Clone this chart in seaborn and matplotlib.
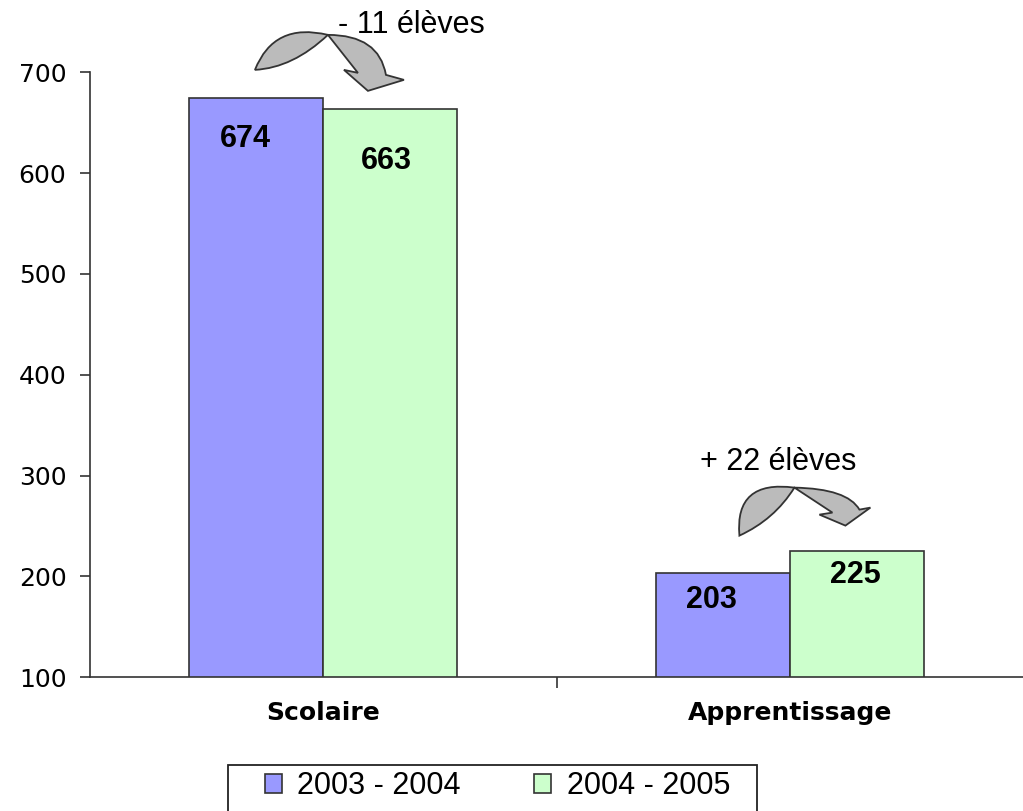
import matplotlib
matplotlib.use("Agg")
import matplotlib.pyplot as plt
import seaborn as sns
import pandas as pd
from matplotlib.path import Path
from matplotlib.patches import PathPatch, Rectangle
from matplotlib.transforms import IdentityTransform

# Données (effectifs par filière)
categories = ["Scolaire", "Apprentissage"]
annees = ["2003 - 2004", "2004 - 2005"]
effectifs_2003 = [674, 203]
effectifs_2004 = [663, 225]

df = pd.DataFrame({
    "Filiere": categories * 2,
    "Annee": [annees[0]] * 2 + [annees[1]] * 2,
    "Effectif": effectifs_2003 + effectifs_2004,
})

sns.set_style("white")
plt.rcParams["font.family"] = ["Liberation Sans", "DejaVu Sans"]
plt.rcParams["text.color"] = "black"
plt.rcParams["xtick.color"] = "black"
plt.rcParams["ytick.color"] = "black"

fig = plt.figure(figsize=(10.23, 8.11), dpi=100)
ax = fig.add_axes([0.088, 0.165, 0.912, 0.746])

sns.barplot(data=df, x="Filiere", y="Effectif", hue="Annee", order=categories,
            hue_order=annees, palette=["#9999FF", "#CCFFCC"], width=0.574,
            edgecolor="#333333", linewidth=1.2, saturation=1, ax=ax)

ax.set_ylim(100, 700)
ax.set_xlim(-0.5, 1.5)
ax.set_yticks(range(100, 701, 100))
ax.set_xlabel("")
ax.set_ylabel("")

# étiquettes des barres (décalage en points par rapport au haut de la barre)
decalages = [[(-8, -29), (-8, -19)], [(-3, -37), (-1, -17)]]
for j, cont in enumerate(ax.containers):
    for k, bar in enumerate(cont):
        h = bar.get_height()
        ax.annotate(f"{h:.0f}", (bar.get_x() + bar.get_width() / 2, h),
                    xytext=decalages[j][k], textcoords="offset points",
                    ha="center", va="center", fontsize=22, fontweight="bold")

# axes style
for s in ["top", "right"]:
    ax.spines[s].set_visible(False)
for s in ["left", "bottom"]:
    ax.spines[s].set_color("#333333")
    ax.spines[s].set_linewidth(1.2)
ax.tick_params(axis="y", left=True, length=7, width=1.2, color="#333333",
               labelsize=18, pad=10)
for lab in ax.get_yticklabels():
    lab.set_family("DejaVu Sans")
ax.set_xticks([0, 1])
ax.set_xticklabels(categories, fontsize=18, fontweight="bold", family="DejaVu Sans")
ax.tick_params(axis="x", bottom=False, pad=14)
ax.set_xticks([0.5], minor=True)
ax.tick_params(axis="x", which="minor", bottom=True, length=8, width=1.2,
               color="#333333")


# flèche courbe (type "flèche courbe vers le bas"), en pixels autour du sommet
def fleche(px, py, f):
    verts = [(0, 0), f["c_haut"], f["tail"], f["c_bas"], (0, 0), f["arc_c"],
             f["arc_end"], f["tete_ext"], f["pointe"], f["tete_int"],
             f["encoche"], (0, 0)]
    codes = [Path.MOVETO, Path.CURVE3, Path.CURVE3, Path.CURVE3, Path.CURVE3,
             Path.CURVE3, Path.CURVE3, Path.LINETO, Path.LINETO, Path.LINETO,
             Path.LINETO, Path.CLOSEPOLY]
    verts = [(px + x, py + y) for x, y in verts]
    p = PathPatch(Path(verts, codes), facecolor="#BBBBBB", edgecolor="#333333",
                  linewidth=1.3, transform=IdentityTransform(), clip_on=False,
                  joinstyle="miter")
    fig.add_artist(p)


formes = [
    dict(tail=(-73, -35), c_haut=(-54, 13), c_bas=(-35, -33), arc_c=(51, 0),
         arc_end=(58, -40), tete_ext=(76, -45), pointe=(40, -56),
         tete_int=(16, -35), encoche=(30, -38)),
    dict(tail=(-55, -48), c_haut=(-60, 8), c_bas=(-20, -32), arc_c=(53, -1),
         arc_end=(65, -22), tete_ext=(76, -20), pointe=(51, -38),
         tete_int=(25, -27), encoche=(38, -25)),
]
texte_decalage = [(83, 10), (-16, 26)]

for i, (v1, v2) in enumerate(zip(effectifs_2003, effectifs_2004)):
    d = v2 - v1
    px, py = ax.transData.transform((i + 0.01, max(v1, v2) + 63))
    fleche(px, py, formes[i])
    signe = "+" if d > 0 else "-"
    dx, dy = texte_decalage[i]
    fig.text(px + dx, py + dy, f"{signe} {abs(d)} élèves", ha="center", va="center",
             fontsize=22, transform=IdentityTransform())

# légende (cadre dessiné à part, coupé par le bas de l'image)
leg = ax.legend(loc="upper left", bbox_to_anchor=(265 / 1023, 1 - 771 / 811),
                bbox_transform=fig.transFigure, ncol=2, frameon=False,
                fontsize=22, handlelength=0.56, handleheight=0.56,
                handletextpad=0.5, columnspacing=2.4, borderpad=0,
                borderaxespad=0)
for h in leg.legend_handles:
    h.set_edgecolor("#333333")
fig.add_artist(Rectangle((228, -10), 757 - 228, 811 - 765 + 10, fill=False,
                         edgecolor="#222222", linewidth=1.3,
                         transform=IdentityTransform()))

fig.savefig("out.png", dpi=100)
